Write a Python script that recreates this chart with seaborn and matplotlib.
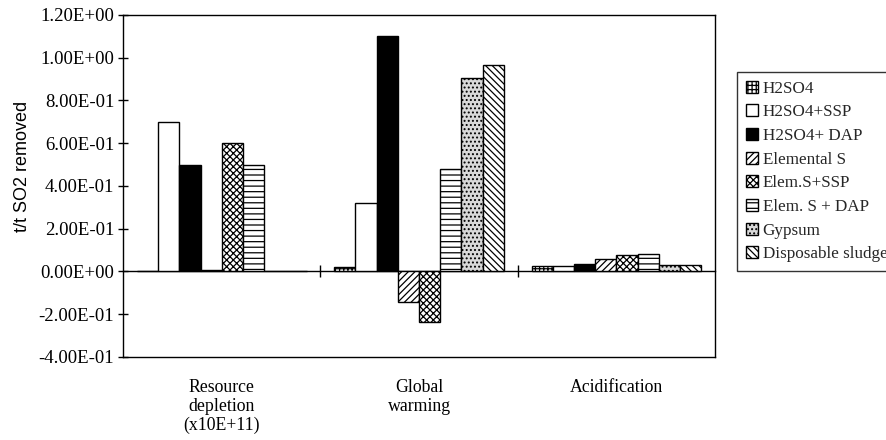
import matplotlib
matplotlib.use("Agg")
import matplotlib.pyplot as plt
import matplotlib.ticker as mticker
import seaborn as sns
import pandas as pd

categories = ["Resource\ndepletion\n(x10E+11)", "Global\nwarming", "Acidification"]
series = ["H2SO4", "H2SO4+SSP", "H2SO4+ DAP", "Elemental S", "Elem.S+SSP",
          "Elem. S + DAP", "Gypsum", "Disposable sludge"]
h2so4 = [0.002, 0.020, 0.023]
h2so4_ssp = [0.700, 0.320, 0.027]
h2so4_dap = [0.500, 1.100, 0.034]
elemental_s = [0.005, -0.145, 0.058]
elem_s_ssp = [0.600, -0.235, 0.078]
elem_s_dap = [0.497, 0.478, 0.081]
gypsum = [0.003, 0.905, 0.030]
sludge = [0.002, 0.965, 0.031]
yticks = [-0.4, -0.2, 0.0, 0.2, 0.4, 0.6, 0.8, 1.0, 1.2]

values = [h2so4, h2so4_ssp, h2so4_dap, elemental_s, elem_s_ssp, elem_s_dap, gypsum, sludge]
rows = []
for s, vals in zip(series, values):
    for c, v in zip(categories, vals):
        rows.append({"Impact": c, "Process": s, "Value": v})
df = pd.DataFrame(rows)

sns.set_theme(style="white")
plt.rcParams["font.family"] = ["Liberation Serif", "DejaVu Serif"]
plt.rcParams["hatch.linewidth"] = 0.9

faces = ["white", "white", "black", "white", "white", "white", "#d9d9d9", "white"]
hatches = ["++++", "", "", "/////", "xxxxx", "---", "....", "\\\\\\\\\\"]

fig = plt.figure(figsize=(8.86, 4.40), dpi=100)
ax = fig.add_axes([0.139, 0.189, 0.668, 0.777])

sns.barplot(data=df, x="Impact", y="Value", hue="Process", order=categories,
            hue_order=series, palette=faces, width=0.86, saturation=1,
            edgecolor="black", linewidth=1.0, legend=False, ax=ax)

for cont, fc, h in zip(ax.containers, faces, hatches):
    for p in cont.patches:
        p.set_facecolor(fc)
        p.set_edgecolor("black")
        p.set_hatch(h)

ax.set_xlim(-0.5, 2.5)
ax.set_ylim(-0.4, 1.2)
ax.set_yticks(yticks)
ax.yaxis.set_major_formatter(mticker.FuncFormatter(lambda v, p: "{:.2E}".format(v)))
ax.tick_params(axis="y", direction="inout", length=7, width=1, pad=3,
               labelsize=13.5, colors="black", left=True)
ax.tick_params(axis="x", length=0, pad=16, labelsize=12.8, colors="black")
for lbl in ax.get_xticklabels():
    lbl.set_linespacing(1.15)
ax.set_xlabel("")
ax.set_ylabel("t/t SO2 removed", fontsize=13, family=["Liberation Sans", "DejaVu Sans"],
              color="black")
ax.yaxis.set_label_coords(-0.155, 0.556)
for sp in ax.spines.values():
    sp.set_visible(True)
    sp.set_color("black")
    sp.set_linewidth(1.0)

# zero line with category boundary ticks
sec = ax.secondary_xaxis(0.25)
sec.set_xticks([0.5, 1.5])
sec.tick_params(direction="inout", length=9, width=1, labelbottom=False, colors="black")
sec.spines["bottom"].set_color("black")
sec.spines["bottom"].set_linewidth(1.0)

leg = ax.legend(ax.containers, series, loc="upper left",
                bbox_to_anchor=(737 / 886, 1 - 72 / 440), bbox_transform=fig.transFigure,
                fontsize=12.3, frameon=True, fancybox=False, shadow=False,
                handlelength=0.7, handleheight=0.7, handletextpad=0.3,
                labelspacing=0.45, borderpad=0.5, borderaxespad=0)
leg.get_frame().set_edgecolor("black")
leg.get_frame().set_linewidth(1.0)

fig.savefig("out.png", dpi=100, facecolor="white")
